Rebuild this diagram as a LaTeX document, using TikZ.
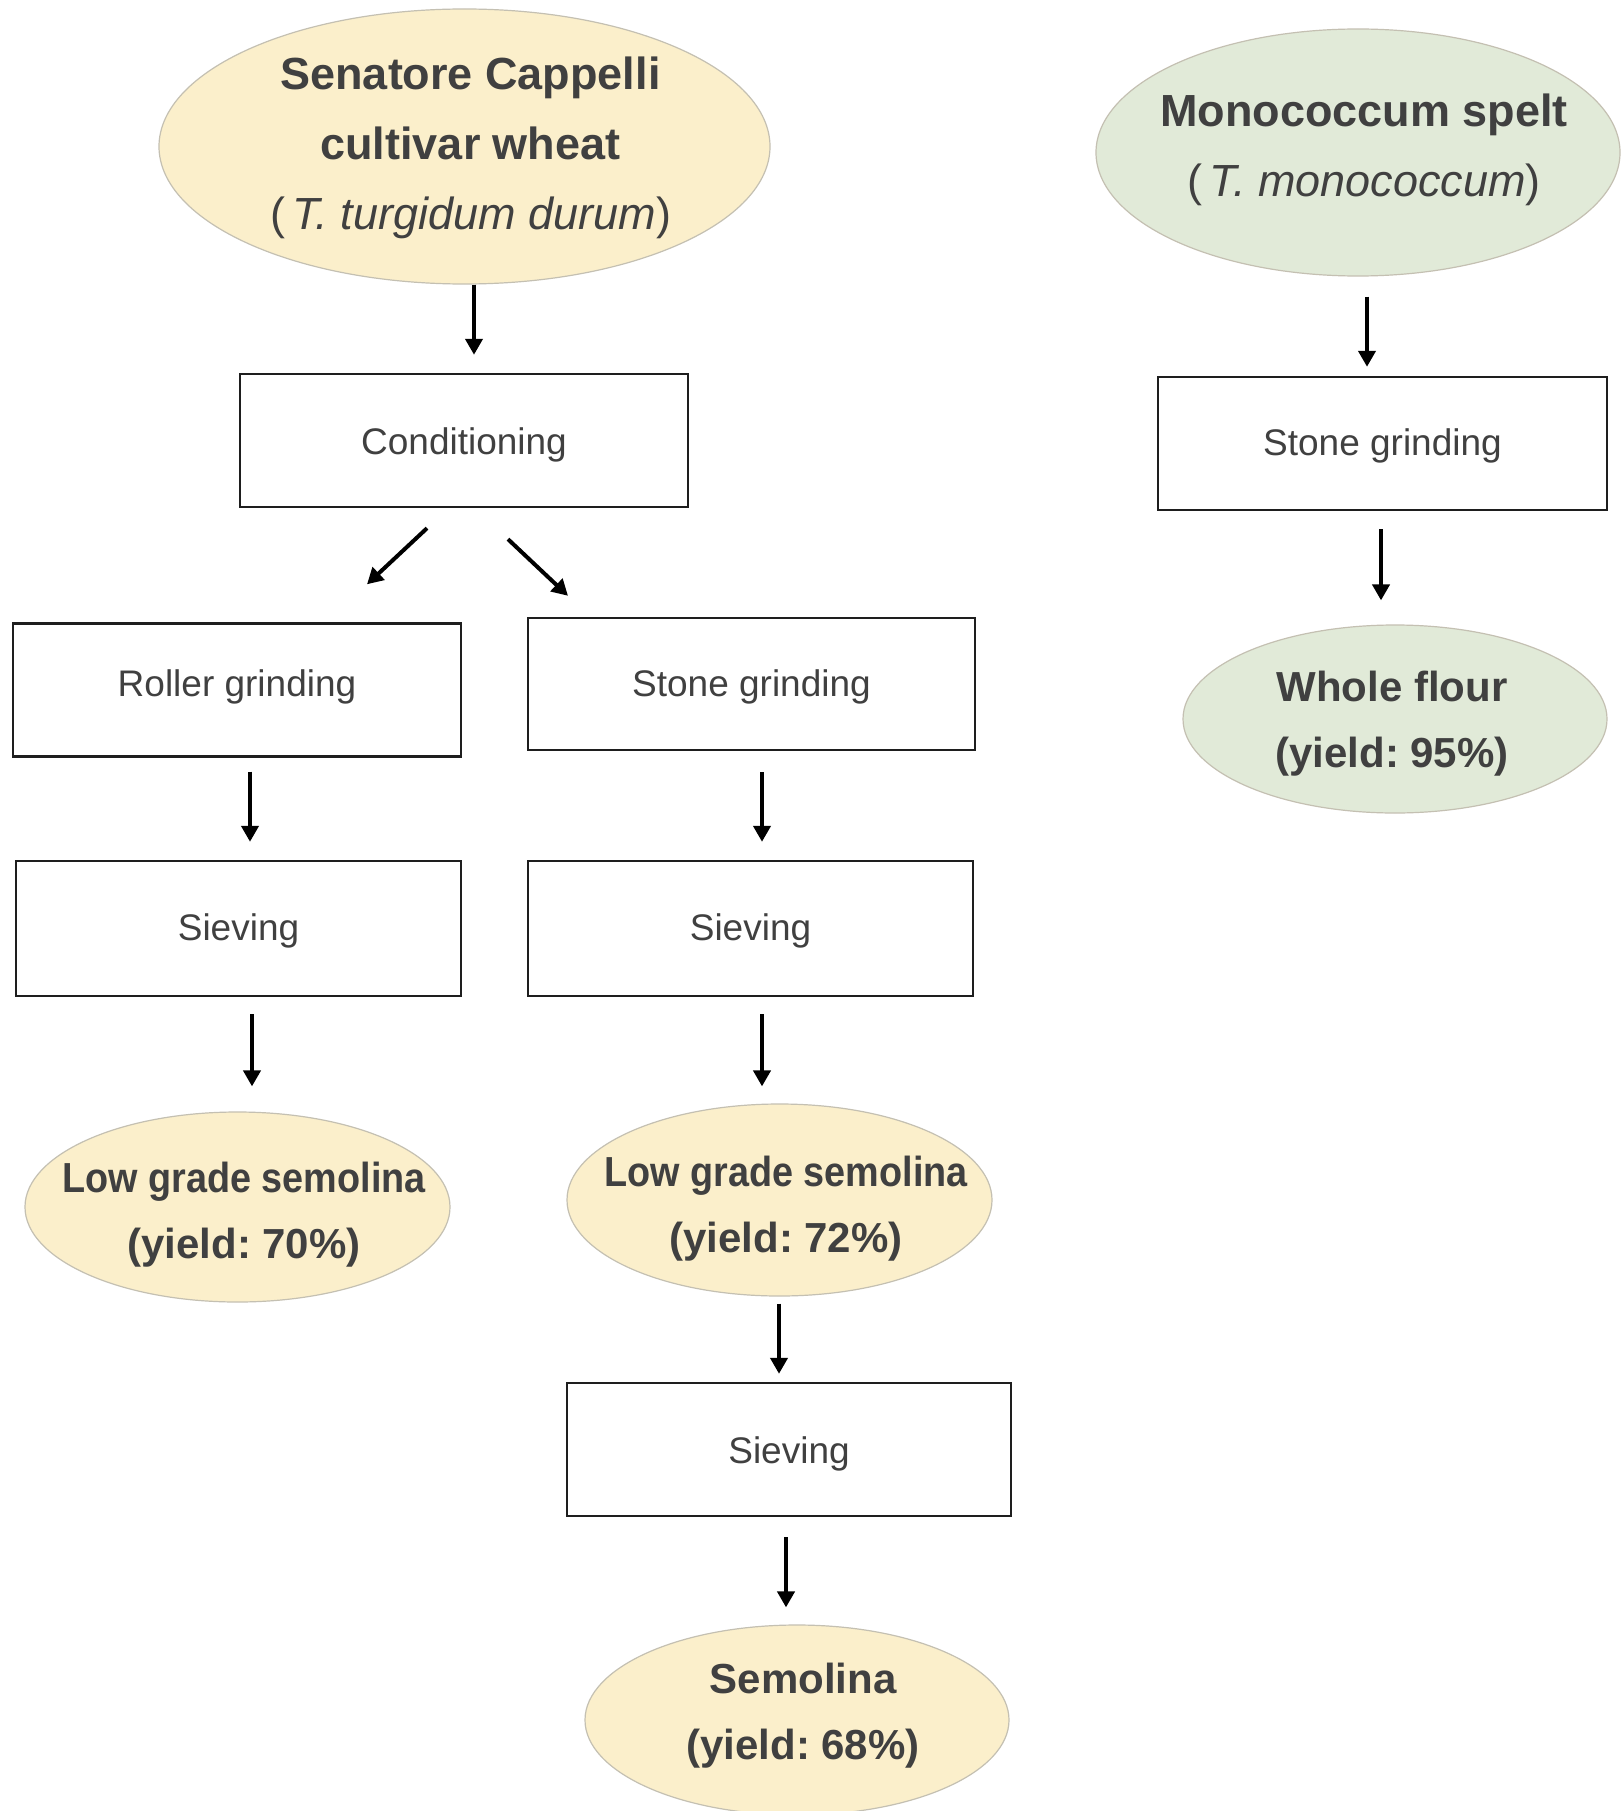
\documentclass[tikz,border=0pt]{standalone}
\usepackage{fontspec}
\usepackage{graphicx}
\setmainfont{Liberation Sans}
\usetikzlibrary{shapes.geometric,arrows.meta}
\definecolor{yfill}{RGB}{251,239,203}
\definecolor{gfill}{RGB}{225,234,216}
\definecolor{ellline}{RGB}{196,192,178}
\definecolor{textgray}{RGB}{64,64,64}
\definecolor{boxline}{RGB}{30,30,30}
\newcommand\topstrut{\rule{0pt}{1em}}
\newcommand\botstrut{\rule[-1em]{0pt}{1em}}
\tikzset{
  procbox/.style={draw=boxline, line width=2.4pt, minimum width=448pt, minimum height=133pt,
    inner sep=0pt, font=\fontsize{37}{44}\selectfont, text=textgray,
    text height=27pt, text depth=3pt},
  ell/.style={ellipse, draw=ellline, line width=1.2pt, inner sep=0pt},
  yell/.style={ell, fill=yfill},
  gell/.style={ell, fill=gfill},
  etext/.style={align=center, text=textgray, inner sep=0pt},
  bigtext/.style={etext, font=\fontsize{45}{70}\selectfont\frenchspacing},
  smalltext/.style={etext, font=\fontsize{42}{66}\selectfont\bfseries\frenchspacing},
  arr/.style={-{Triangle[length=16pt,width=17pt]}, line width=4pt, black},
}
\begin{document}
\begin{tikzpicture}[x=1pt,y=-1pt]
\useasboundingbox (0,0) rectangle (1621,1811);
\fill[white] (0,0) rectangle (1621,1811);

% ellipses
\node[yell, minimum width=611pt, minimum height=275pt] (sc) at (464.5,146.5) {};
\node[bigtext] (sct) at (470.5,159.5)
  {\topstrut\textbf{Senatore Cappelli}\\\textbf{cultivar wheat}\\(\,\textit{T. turgidum durum})\botstrut};

\node[gell, minimum width=524pt, minimum height=247pt] (ms) at (1358,152.5) {};
\node[bigtext] (mst) at (1364,162)
  {\topstrut\textbf{Monococcum spelt}\\(\,\textit{T. monococcum})\botstrut};

\node[gell, minimum width=424pt, minimum height=188pt] (wf) at (1395,719) {};
\node[smalltext] (wft) at (1392,734) {\topstrut Whole flour\\(yield: 95\%)\botstrut};

\node[yell, minimum width=425pt, minimum height=190pt] (lg1) at (237.5,1207) {};
\node[smalltext] (lg1t) at (244,1225)
  {\topstrut\scalebox{0.9}[1]{Low grade semolina}\\(yield: 70\%)\botstrut};

\node[yell, minimum width=425pt, minimum height=192pt] (lg2) at (779.5,1200) {};
\node[smalltext] (lg2t) at (786,1219)
  {\topstrut\scalebox{0.9}[1]{Low grade semolina}\\(yield: 72\%)\botstrut};

\node[yell, minimum width=424pt, minimum height=190pt] (sem) at (797,1720) {};
\node[smalltext] (semt) at (803,1726) {\topstrut Semolina\\(yield: 68\%)\botstrut};

% boxes
\node[procbox, text height=31.5pt] (cond) at (464,440.5) {Conditioning};
\node[procbox, text depth=15pt] (roll) at (237,690) {Roller grinding};
\node[procbox, minimum width=447pt, minimum height=132pt] (st1) at (751.5,684) {Stone grinding};
\node[procbox, minimum width=445pt, minimum height=135pt] (sv1) at (238.5,928.5) {Sieving};
\node[procbox, minimum width=445pt, minimum height=135pt] (sv2) at (750.5,928.5) {Sieving};
\node[procbox, minimum width=444pt, text height=31pt] (sv3) at (789,1449.5) {Sieving};
\node[procbox, minimum width=449pt] (st2) at (1382.5,443.5) {Stone grinding};

% arrows
\draw[arr] ([shift={(9.5,0)}]sc.south) -- ([shift={(10,-18)}]cond.north);
\draw[arr] ([shift={(-37,20)}]cond.south) -- ([shift={(130,-38)}]roll.north);
\draw[arr] ([shift={(44,31)}]cond.south) -- ([shift={(-183.5,-21)}]st1.north);
\draw[arr] ([shift={(13,14)}]roll.south) -- ([shift={(11.5,-18)}]sv1.north);
\draw[arr] ([shift={(10.5,21)}]st1.south) -- ([shift={(11.5,-18)}]sv2.north);
\draw[arr] ([shift={(13.5,17)}]sv1.south) -- ([shift={(14.5,-25)}]lg1.north);
\draw[arr] ([shift={(11.5,17)}]sv2.south) -- ([shift={(-17.5,-17)}]lg2.north);
\draw[arr] ([shift={(-0.5,7)}]lg2.south) -- ([shift={(-10,-8)}]sv3.north);
\draw[arr] ([shift={(-3,20)}]sv3.south) -- ([shift={(-11,-17)}]sem.north);
\draw[arr] ([shift={(9,20)}]ms.south) -- ([shift={(-15.5,-9)}]st2.north);
\draw[arr] ([shift={(-1.5,18)}]st2.south) -- ([shift={(-14,-24)}]wf.north);
\end{tikzpicture}
\end{document}
